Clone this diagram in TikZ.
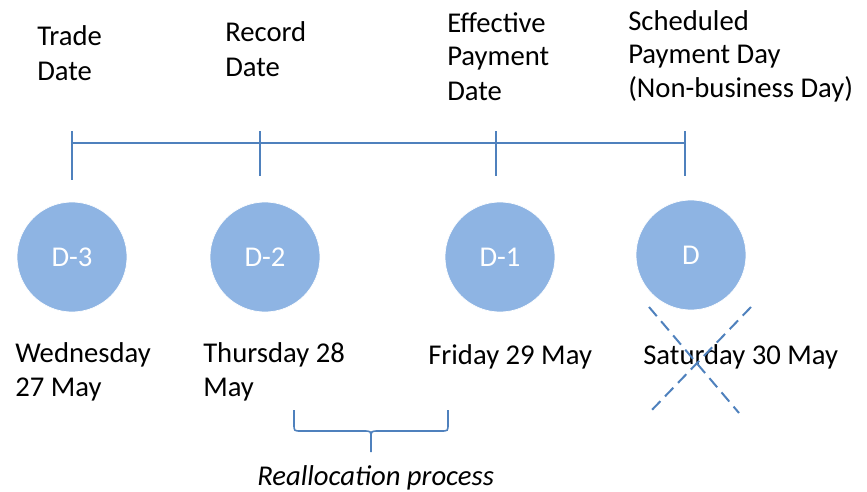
\documentclass[tikz,border=0pt]{standalone}
\usepackage{fontspec}
\setmainfont{Carlito}
\definecolor{dayfill}{HTML}{8EB4E3}
\definecolor{lineblue}{HTML}{4F81BD}
\begin{document}
\begin{tikzpicture}[x=0.75pt,y=-0.75pt,
  lbl/.style={anchor=base west,inner sep=0pt,align=left,font=\fontsize{21.5}{25.5}\selectfont,text=black},
  daycircle/.style={circle,fill=dayfill,draw=white,line width=0.5pt,minimum size=110*0.75pt,inner sep=0pt,text=white,font=\fontsize{21.5}{24}\selectfont},
  tline/.style={draw=lineblue,line width=1.5pt},
  crossline/.style={draw=lineblue,line width=1.5pt,dash pattern=on 9pt off 5pt}]
\useasboundingbox (0,0) rectangle (867,492);
% timeline
\coordinate (t1) at (72,143);
\coordinate (t2) at (260,143);
\coordinate (t3) at (496,143);
\coordinate (t4) at (685,143);
\coordinate (t1a) at (72,131);
\coordinate (t1b) at (72,180);
\coordinate (t2a) at (260,131);
\coordinate (t2b) at (260,176);
\coordinate (t3a) at (496,131);
\coordinate (t3b) at (496,176);
\coordinate (t4a) at (685,131);
\coordinate (t4b) at (685,176);
\draw[tline] (t1) -- (t4);
\draw[tline] (t1a) -- (t1b);
\draw[tline] (t2a) -- (t2b);
\draw[tline] (t3a) -- (t3b);
\draw[tline] (t4a) -- (t4b);
% top labels (anchored at last line's baseline)
\node[lbl] (trade) at (37,80) {Trade\\Date};
\node[lbl] (record) at (225,76) {Record\\Date};
\node[lbl] (eff) at (447,100) {Effective\\Payment\\Date};
\node[lbl] (sched) at (628,98) {Scheduled\\Payment Day\\(Non-business Day)};
% circles
\node[daycircle] (d3) at (72,257) {D-3};
\node[daycircle] (d2) at (265,257) {D-2};
\node[daycircle] (d1) at (500,257) {D-1};
\node[daycircle] (d0) at (691,255) {D};
% bottom labels
\node[lbl] (wed) at (15,396) {Wednesday\\27 May};
\node[lbl] (thu) at (203,396) {Thursday 28\\May};
\node[lbl] (fri) at (428,364) {Friday 29 May};
\node[lbl] (sat) at (643,364) {Saturday 30 May};
% cross
\coordinate (c1) at (649,307);
\coordinate (c2) at (739,413);
\coordinate (c3) at (751,307);
\coordinate (c4) at (649,413);
\draw[crossline] (c1) -- (c2);
\draw[crossline] (c3) -- (c4);
% brace
\coordinate (bl) at (294,410);
\coordinate (br) at (448,410);
\coordinate (bm) at (371,452);
\draw[tline,line width=1.2pt] (bl) -- (294,424) .. controls (294,431) .. (301,431) -- (363,431)
  .. controls (371,431) .. (371,438) -- (bm);
\draw[tline,line width=1.2pt] (br) -- (448,424) .. controls (448,431) .. (441,431) -- (379,431)
  .. controls (371,431) .. (371,438);
\node[lbl,font=\fontsize{21.5}{24}\selectfont\itshape] (realloc) at (257,485) {Reallocation process};
\end{tikzpicture}
\end{document}
